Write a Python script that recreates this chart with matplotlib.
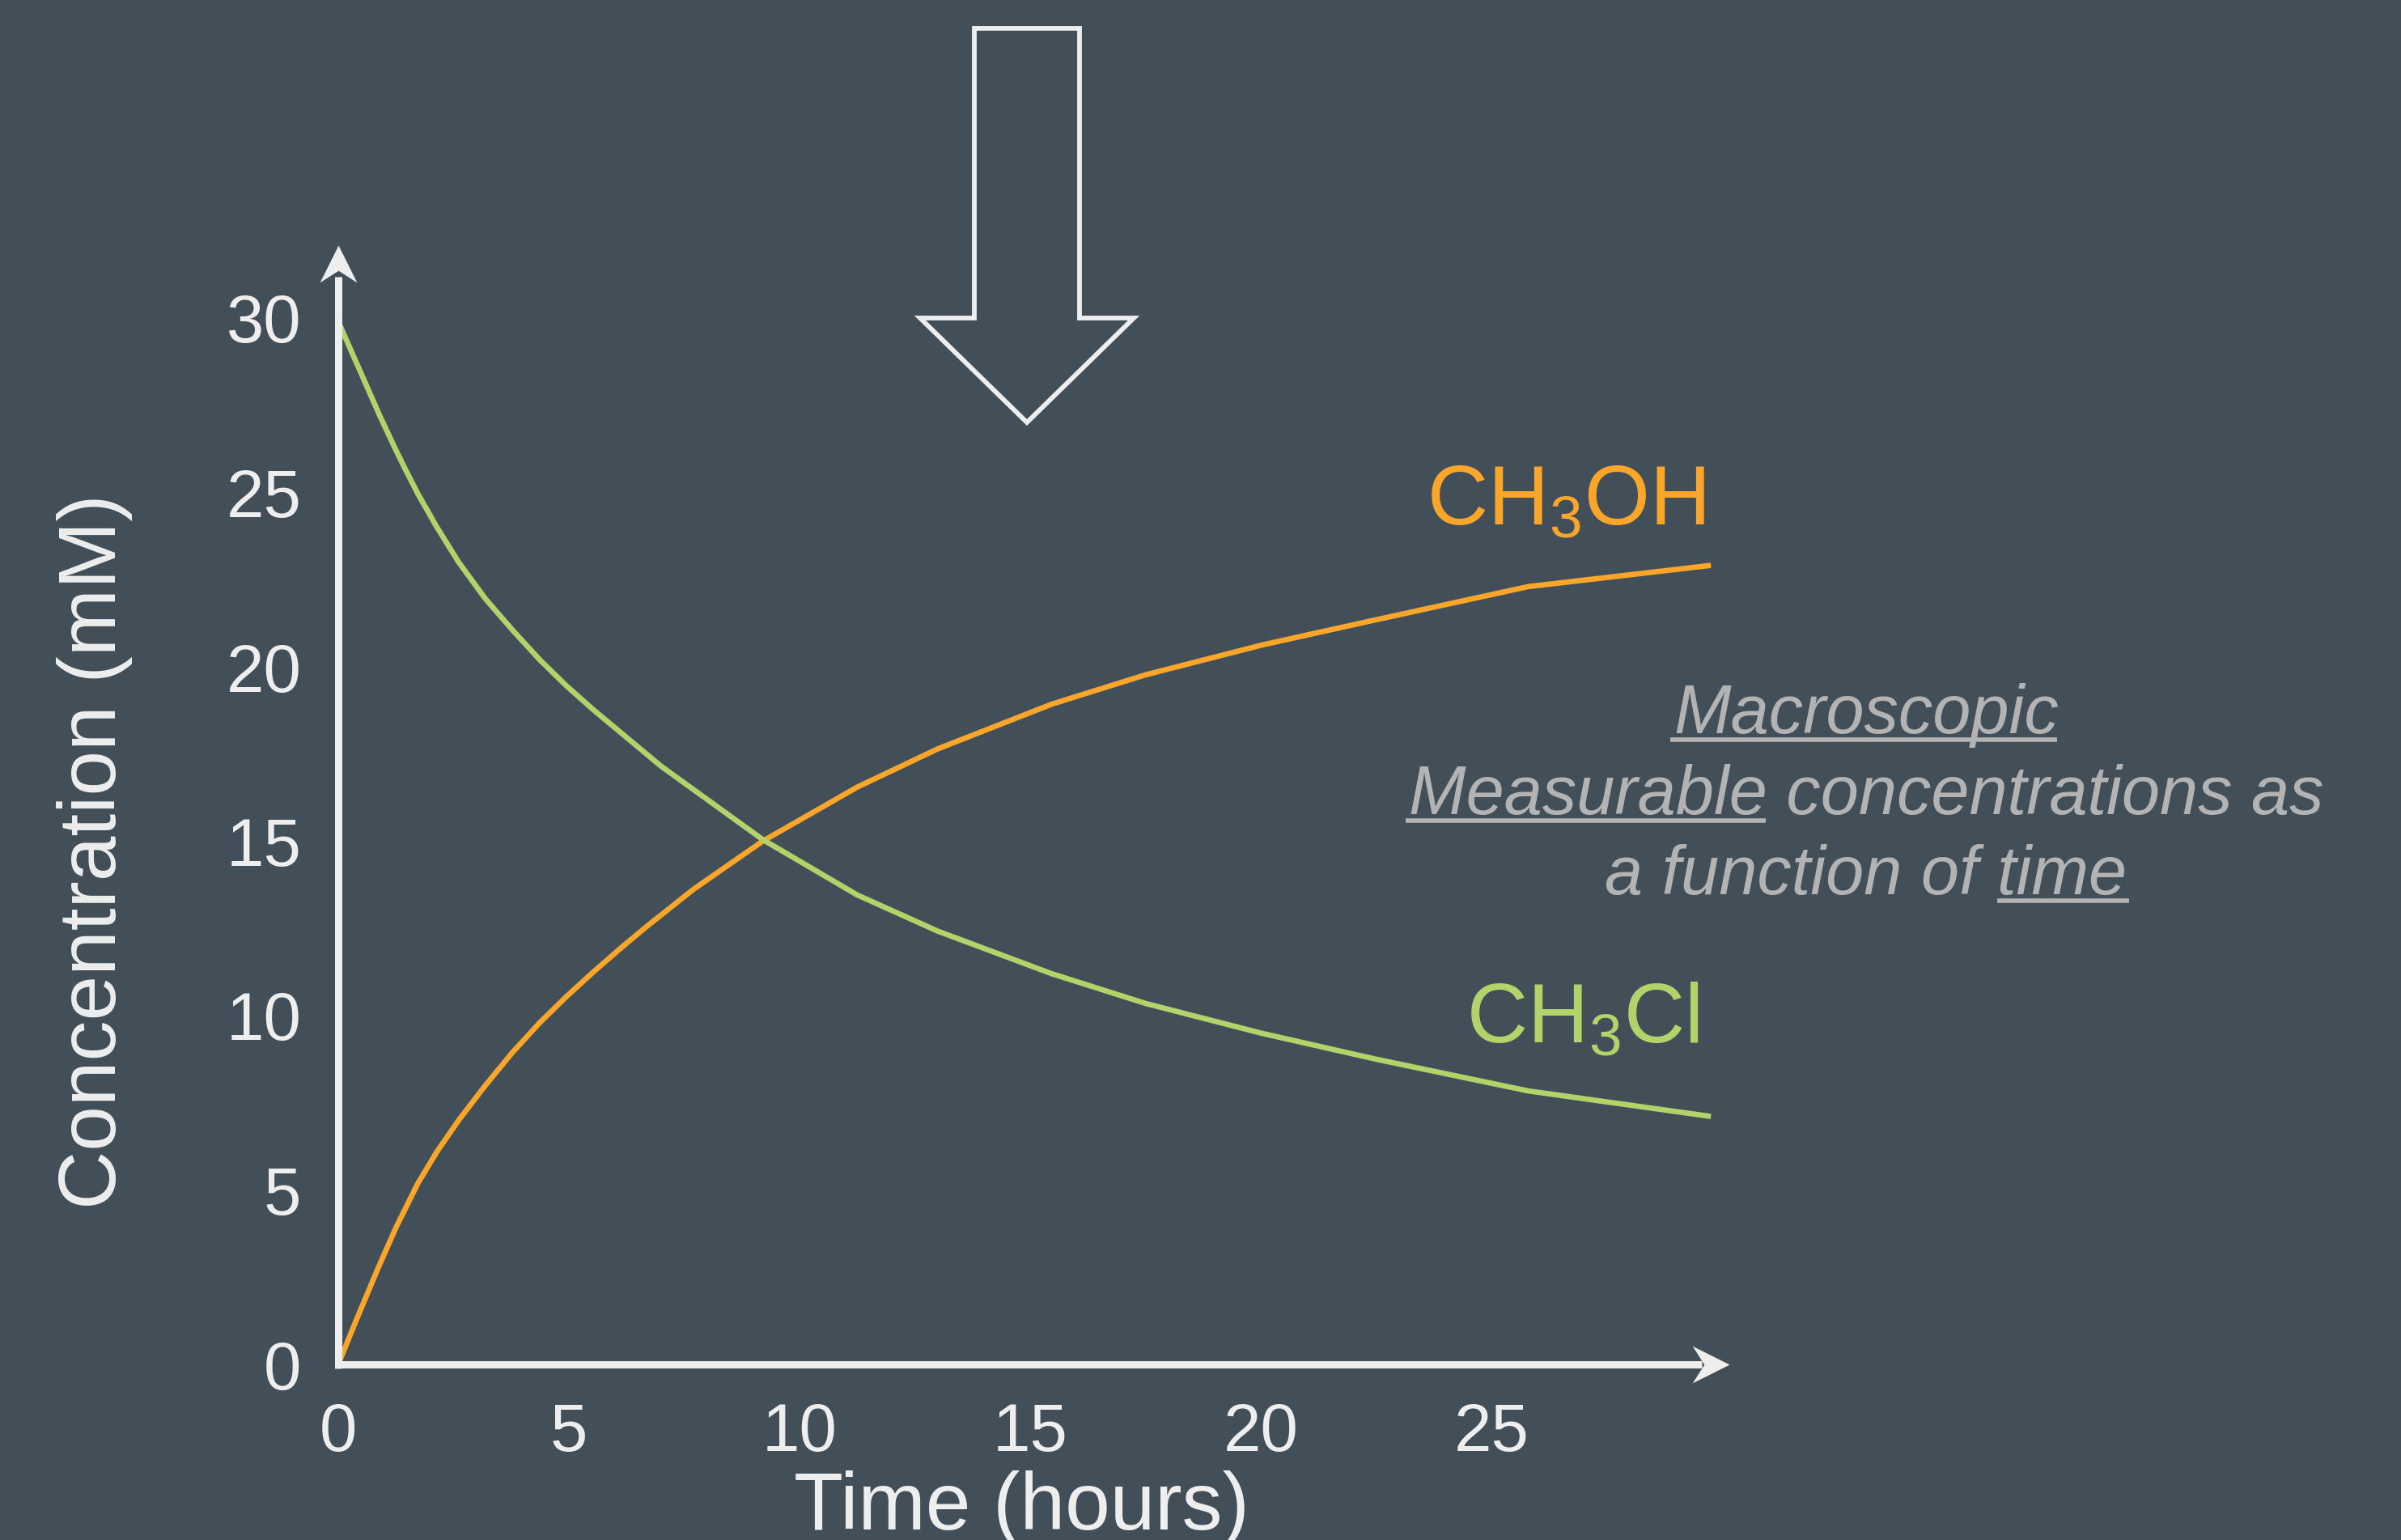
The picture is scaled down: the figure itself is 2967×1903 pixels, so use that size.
import numpy as np
import matplotlib
matplotlib.use('Agg')
import matplotlib.pyplot as plt
from matplotlib.path import Path
from matplotlib.patches import Polygon
from matplotlib.lines import Line2D

# ---------------- data ----------------
time_ch3cl = [0, 0.3, 0.6, 0.9, 1.2, 1.44, 1.73, 2.14, 2.61, 3.19, 3.78, 4.37,
              4.95, 5.53, 7.0, 9.2, 11.25, 13.0, 15.47, 17.5, 20.0, 22.5, 25.8, 29.7]
ch3cl = [29.9, 29.0, 28.1, 27.2, 26.35, 25.7, 24.95, 24.0, 23.0, 21.95, 21.05, 20.2,
         19.45, 18.77, 17.15, 15.05, 13.46, 12.42, 11.2, 10.35, 9.5, 8.75, 7.84, 7.12]

time_ch3oh = [0, 0.4, 0.86, 1.26, 1.73, 2.14, 2.61, 3.19, 3.78, 4.37, 4.95, 5.53,
              6.12, 6.7, 7.7, 9.2, 11.25, 13.0, 15.47, 17.5, 20.04, 22.5, 25.8, 29.7]
ch3oh = [0.0, 1.3, 2.75, 3.95, 5.2, 6.1, 7.0, 8.0, 8.95, 9.8, 10.55, 11.25,
         11.93, 12.57, 13.62, 15.0, 16.55, 17.65, 18.93, 19.77, 20.63, 21.35, 22.3, 22.9]

x_ticks = [0, 5, 10, 15, 20, 25]
y_ticks = [0, 5, 10, 15, 20, 25, 30]

label_ch3oh = r'CH$_3$OH'
label_ch3cl = r'CH$_3$Cl'
x_label = 'Time (hours)'
y_label = 'Concentration (mM)'
note_lines = [
    [('Macroscopic', True)],
    [('Measurable', True), (' concentrations as', False)],
    [('a function of ', False), ('time', True)],
]

# ---------------- style ----------------
W, H = 2967, 1903
DPI = 100
BG = '#424F59'
WHITE = '#EEEEEE'
ORANGE = '#F9A62A'
GREEN = '#B2D36A'
GRAY = '#B3B3B3'

plt.rcParams['font.family'] = ['Liberation Sans', 'DejaVu Sans']
plt.rcParams['mathtext.fontset'] = 'custom'
plt.rcParams['mathtext.rm'] = 'Liberation Sans'
plt.rcParams['mathtext.it'] = 'Liberation Sans:italic'
plt.rcParams['mathtext.bf'] = 'Liberation Sans:bold'

fig = plt.figure(figsize=(W / DPI, H / DPI), dpi=DPI, facecolor=BG)


def fx(px):
    return px / W


def fy(py):
    return 1 - py / H


X0, Y0, X1, Y1 = 418, 1686, 2128, 393
ax = fig.add_axes([fx(X0), fy(Y0), (X1 - X0) / W, (Y0 - Y1) / H])
ax.set_facecolor('none')
ax.set_xlim(0, 30)
ax.set_ylim(0, 30)
for s in ax.spines.values():
    s.set_visible(False)
ax.set_xticks(x_ticks)
ax.set_yticks(y_ticks)
ax.tick_params(length=0, pad=33, labelsize=60, labelcolor=WHITE)

# curves
ax.plot(time_ch3oh, ch3oh, color=ORANGE, lw=4.8, clip_on=False, zorder=3,
        solid_joinstyle='round')
ax.plot(time_ch3cl, ch3cl, color=GREEN, lw=4.8, clip_on=False, zorder=3,
        solid_joinstyle='round')

# axes with arrow heads (axes-fraction coordinates)
xtip = (2137 - X0) / (X1 - X0)
ytip = (Y0 - 303) / (Y0 - Y1)
lw_axis = 6.5
ax.plot([0, xtip - 0.02], [0, 0], color=WHITE, lw=lw_axis, transform=ax.transAxes,
        clip_on=False, zorder=4, solid_capstyle='butt')
ax.plot([0, 0], [-0.0035, ytip - 0.03], color=WHITE, lw=lw_axis, transform=ax.transAxes,
        clip_on=False, zorder=4, solid_capstyle='butt')

head_r = Path([(0, 0), (-1, 0.5), (-0.68, 0), (-1, -0.5), (0, 0)],
              [Path.MOVETO, Path.LINETO, Path.LINETO, Path.LINETO, Path.CLOSEPOLY])
head_u = Path([(0, 0), (0.5, -1), (0, -0.68), (-0.5, -1), (0, 0)],
              [Path.MOVETO, Path.LINETO, Path.LINETO, Path.LINETO, Path.CLOSEPOLY])
ax.plot([xtip], [0], marker=head_r, markersize=66, color=WHITE, markeredgewidth=0,
        transform=ax.transAxes, clip_on=False, zorder=5)
ax.plot([0], [ytip], marker=head_u, markersize=66, color=WHITE, markeredgewidth=0,
        transform=ax.transAxes, clip_on=False, zorder=5)

# axis labels
fig.text(fx(1262), fy(1890), x_label, color=WHITE, fontsize=72, ha='center', va='baseline')
fig.text(fx(164), fy(1052), y_label, color=WHITE, fontsize=72, rotation=90,
         ha='right', va='center')

# series labels
fig.text(fx(2107), fy(648), label_ch3oh, color=ORANGE, fontsize=75, ha='right', va='baseline')
fig.text(fx(2100), fy(1288), label_ch3cl, color=GREEN, fontsize=75, ha='right', va='baseline')

# big hollow arrow
arrow_px = [(1204, 35), (1334, 35), (1334, 393), (1401, 393), (1269, 522),
            (1137, 393), (1204, 393)]
fig.add_artist(Polygon([(fx(x), fy(y)) for x, y in arrow_px], closed=True, fill=False,
                       edgecolor=WHITE, lw=4.2, joinstyle='miter',
                       transform=fig.transFigure))

# annotation text block with underlines
renderer = fig.canvas.get_renderer()
note_kw = dict(fontsize=61, style='italic', color=GRAY)


def text_width(s):
    t = fig.text(0, 0, s, **note_kw)
    w = t.get_window_extent(renderer).width
    t.remove()
    return w


cx = 2306
baselines = [906, 1006, 1105]
for segs, base in zip(note_lines, baselines):
    full = ''.join(s for s, _ in segs)
    fig.text(fx(cx), fy(base), full, ha='center', va='baseline', **note_kw)
    wfull = text_width(full)
    left = cx - wfull / 2
    for i, (s, ul) in enumerate(segs):
        if ul:
            prefix = ''.join(x for x, _ in segs[:i])
            suffix = ''.join(x for x, _ in segs[i:])
            start = left + (wfull - text_width(suffix)) if prefix else left - 4
            end = start + text_width(s.strip()) + 2
            fig.add_artist(Line2D([fx(start), fx(end)], [fy(base + 8), fy(base + 8)],
                                  color=GRAY, lw=4, transform=fig.transFigure,
                                  solid_capstyle='butt'))

fig.savefig('out.png', dpi=DPI, facecolor=BG)
